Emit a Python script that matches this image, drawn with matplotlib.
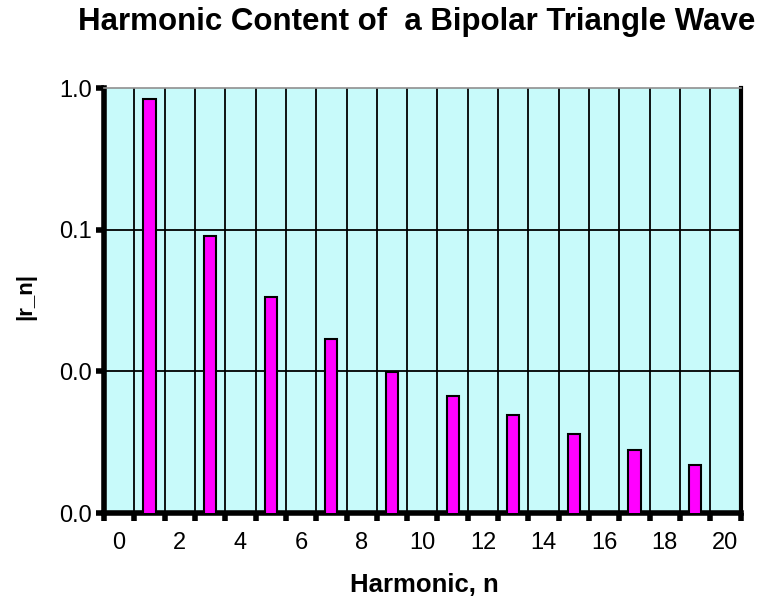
import matplotlib
matplotlib.use("Agg")
import matplotlib.pyplot as plt
from matplotlib.ticker import FixedLocator, FixedFormatter

plt.rcParams['font.family'] = ['Liberation Sans', 'DejaVu Sans']

# odd harmonics and their magnitudes
harmonics = [1, 3, 5, 7, 9, 11, 13, 15, 17, 19]
magnitudes = [0.835, 0.091, 0.0333, 0.0168, 0.0099, 0.0067, 0.0049, 0.0036, 0.0028, 0.0022]

x_ticks = [0, 2, 4, 6, 8, 10, 12, 14, 16, 18, 20]
y_ticks = [0.001, 0.01, 0.1, 1.0]
y_labels = ["0.0", "0.0", "0.1", "1.0"]

fig = plt.figure(figsize=(7.67, 6.0), dpi=100)
ax = fig.add_axes([0.1356, 0.145, 0.830, 0.708])
ax.set_facecolor('#c8fafa')

ax.bar(harmonics, magnitudes, width=0.4, color='#ff00ff', edgecolor='black',
       linewidth=1.5, zorder=3)

ax.set_yscale('log')
ax.set_ylim(0.001, 1.0)
ax.set_xlim(-0.5, 20.5)

# grid lines sit between the integer labels
grid_x = [i + 0.5 for i in range(-1, 21)]
for gx in grid_x[1:-1]:
    ax.axvline(gx, color='black', linewidth=1.3, zorder=1)
for gy in [0.01, 0.1]:
    ax.axhline(gy, color='black', linewidth=1.3, zorder=1)

ax.xaxis.set_major_locator(FixedLocator(x_ticks))
ax.xaxis.set_minor_locator(FixedLocator(grid_x))
ax.tick_params(axis='x', which='major', length=0, labelsize=17, pad=14)
ax.tick_params(axis='x', which='minor', length=6, width=4, direction='out')

ax.yaxis.set_major_locator(FixedLocator(y_ticks))
ax.yaxis.set_major_formatter(FixedFormatter(y_labels))
ax.yaxis.set_minor_locator(FixedLocator([]))
ax.tick_params(axis='y', which='major', length=6, width=4, labelsize=17, pad=3)

ax.spines['left'].set_linewidth(4)
ax.spines['bottom'].set_linewidth(4)
ax.spines['right'].set_linewidth(3)
ax.spines['top'].set_linewidth(1.2)
ax.spines['top'].set_color('#909090')

fig.text(0.543, 0.963, "Harmonic Content of  a Bipolar Triangle Wave",
         ha='center', va='center', fontsize=22.5, fontweight='bold')
fig.text(0.553, 0.025, "Harmonic, n", ha='center', va='center',
         fontsize=18.5, fontweight='bold')
fig.text(0.033, 0.505, "|r_n|", ha='center', va='center', rotation=90,
         fontsize=16, fontweight='bold')

fig.savefig("out.png", dpi=100)
